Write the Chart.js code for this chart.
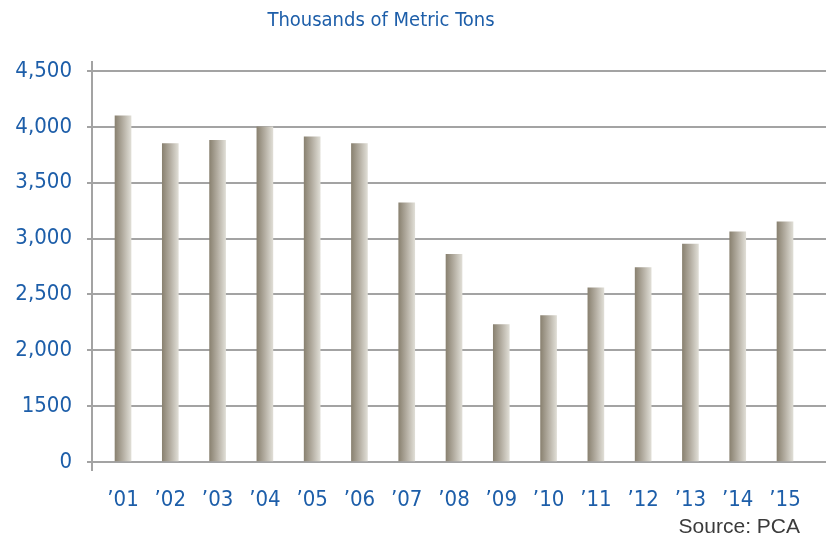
<!DOCTYPE html>
<html>
<head>
<meta charset="utf-8">
<script src="https://cdn.jsdelivr.net/npm/chart.js@4"></script>
<style>
    html, body { margin: 0; padding: 0; background: #fff; }
    #wrap { width: 828px; height: 539px; }
</style>
</head>
<body>
<div id="wrap"><canvas id="tonsChart" width="828" height="539"></canvas></div>
<script>
// Data
const years = ['\u201901', '\u201902', '\u201903', '\u201904', '\u201905', '\u201906', '\u201907', '\u201908',
               '\u201909', '\u201910', '\u201911', '\u201912', '\u201913', '\u201914', '\u201915'];
const tons = [4100, 3850, 3880, 4000, 3910, 3850, 3320, 2860, 2230, 2310, 2560, 2740, 2950, 3060, 3150];
// the axis is broken: its bottom line reads 0 but sits where 1,000 would be
const yTickValues = [1000, 1500, 2000, 2500, 3000, 3500, 4000, 4500];
const yTickLabels = ['0', '1500', '2,000', '2,500', '3,000', '3,500', '4,000', '4,500'];
const titleText = 'Thousands of Metric Tons';
const sourceText = 'Source: PCA';

const BLUE = '#1d5ea9';
const GRID = '#a3a3a3';
const NARROW = "'Liberation Sans Narrow', 'DejaVu Sans Condensed', sans-serif";

// horizontal shading on each bar, dark on the left and pale on the right
function barGradient(context) {
    const chart = context.chart;
    const xScale = chart.scales.x;
    if (!xScale || context.dataIndex === undefined) {
        return '#b4aea2';
    }
    const x = xScale.getPixelForValue(context.dataIndex);
    if (!isFinite(x)) {
        return '#b4aea2';
    }
    const g = chart.ctx.createLinearGradient(x - 8, 0, x + 8, 0);
    g.addColorStop(0, '#8a8271');
    g.addColorStop(0.5, '#b4aea2');
    g.addColorStop(1, '#dfddd5');
    return g;
}

// title on top, source note in the bottom right
const textPlugin = {
    id: 'texts',
    afterDraw(chart) {
        const ctx = chart.ctx;
        ctx.save();
        ctx.textBaseline = 'middle';
        ctx.fillStyle = BLUE;
        ctx.font = '20px ' + NARROW;
        ctx.textAlign = 'center';
        ctx.fillText(titleText, 381, 21);
        ctx.fillStyle = '#3b3b3b';
        ctx.font = '21px "Liberation Sans", Arial, sans-serif';
        ctx.textAlign = 'right';
        ctx.fillText(sourceText, 800, 527);
        ctx.restore();
    }
};

const ctx = document.getElementById('tonsChart');
const tonsChart = new Chart(ctx, {
    type: 'bar',
    data: {
        datasets: [{
            data: tons.map((v, i) => ({ x: i, y: v })),
            backgroundColor: barGradient,
            borderWidth: 0,
            barThickness: 16,
            base: yTickValues[0]
        }]
    },
    options: {
        responsive: false,
        animation: false,
        layout: { padding: { top: 62, right: 2, left: 0, bottom: 0 } },
        scales: {
            x: {
                type: 'linear',
                offset: false,
                min: -0.656,
                max: 14.867,
                afterBuildTicks: (scale) => {
                    scale.ticks = years.map((_, i) => ({ value: i }));
                },
                afterFit: (scale) => { scale.height = 69; },
                grid: { display: false },
                border: { display: false },
                ticks: {
                    autoSkip: false,
                    maxRotation: 0,
                    padding: 9,
                    color: BLUE,
                    font: { family: NARROW, size: 22 },
                    callback: (value) => years[value]
                }
            },
            y: {
                min: 928,
                max: 4581,
                afterBuildTicks: (scale) => {
                    scale.ticks = yTickValues.map((v) => ({ value: v }));
                },
                afterFit: (scale) => { scale.width = 92; },
                grid: {
                    color: GRID,
                    lineWidth: 2,
                    tickLength: 5,
                    tickColor: GRID
                },
                border: { color: GRID, width: 2 },
                ticks: {
                    padding: 15,
                    color: BLUE,
                    font: { family: NARROW, size: 22 },
                    callback: (value) => yTickLabels[yTickValues.indexOf(value)]
                }
            }
        },
        plugins: {
            legend: { display: false },
            tooltip: { enabled: false }
        }
    },
    plugins: [textPlugin]
});
</script>
</body>
</html>
